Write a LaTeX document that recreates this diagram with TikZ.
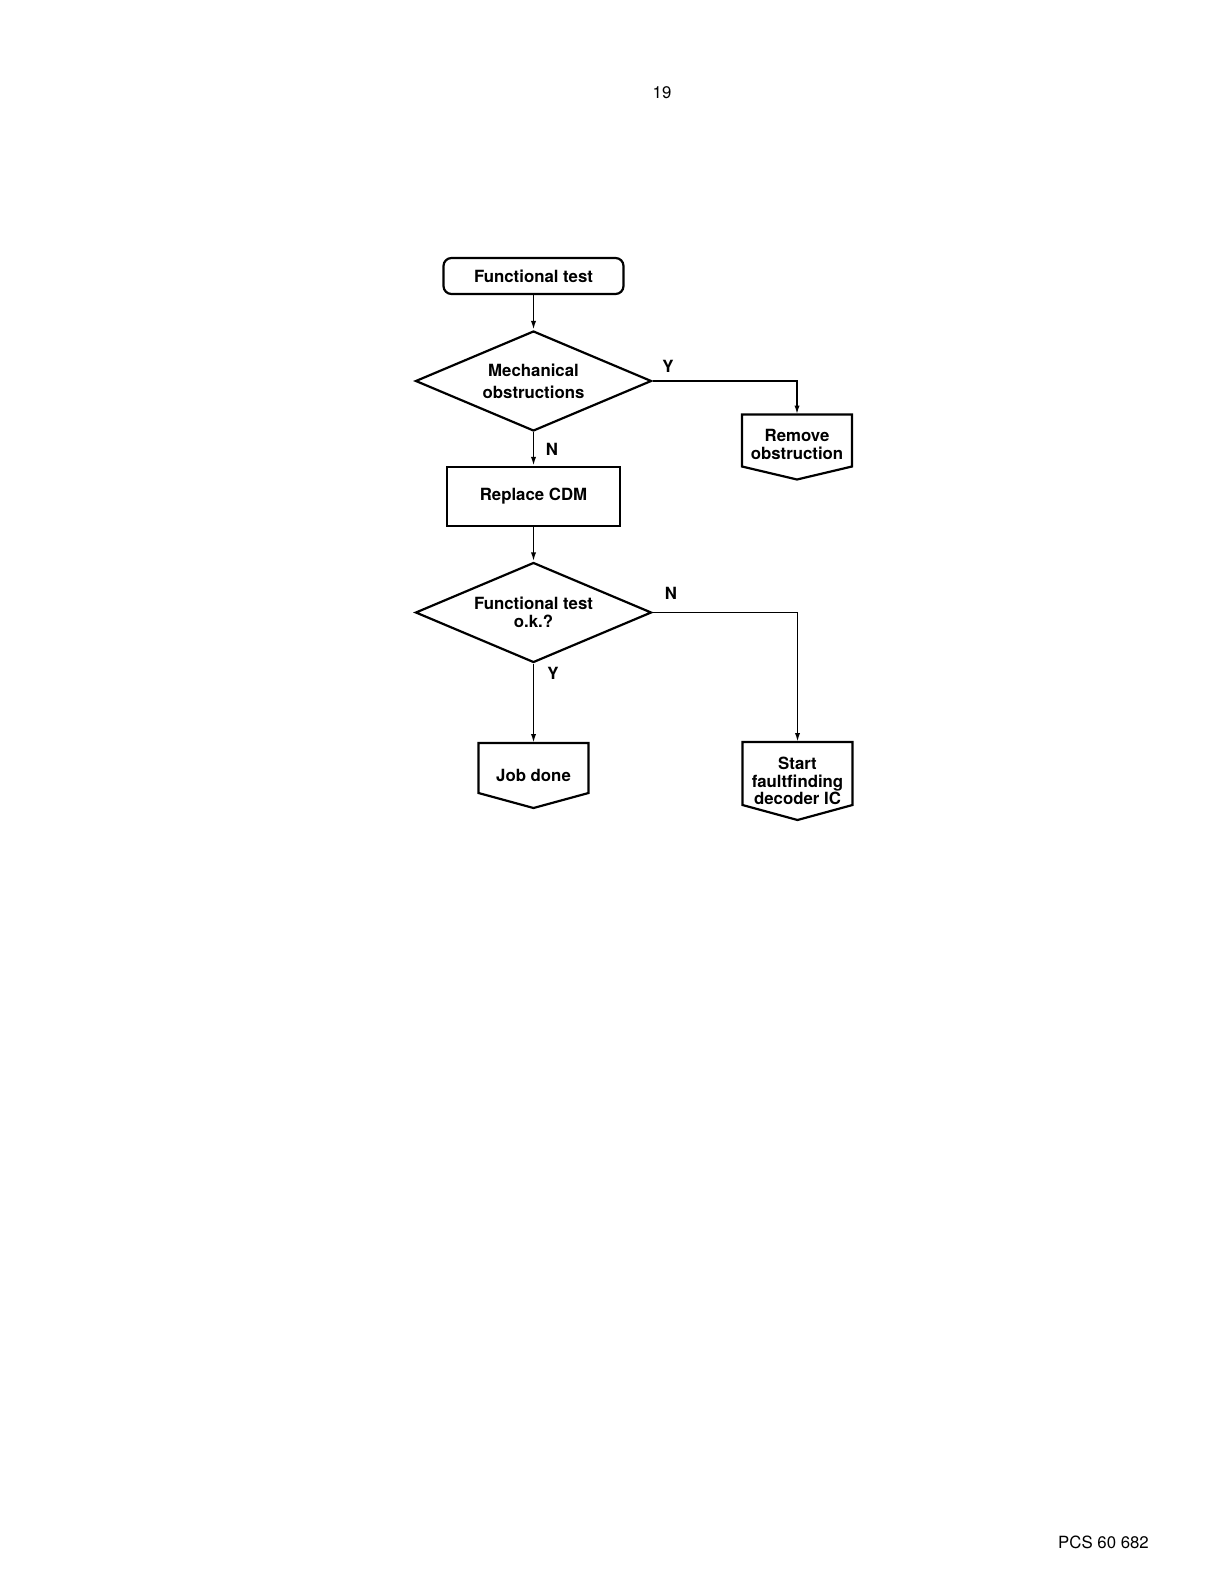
\documentclass[tikz,border=0pt]{standalone}
\usepackage{fontspec}
\setmainfont{TeX Gyre Heros}
\usetikzlibrary{shapes.geometric,arrows.meta}
\begin{document}
\begin{tikzpicture}[x=0.5pt,y=-0.5pt,
  every node/.style={font=\bfseries\fontsize{8.4}{9}\selectfont, align=center, inner sep=0pt},
  shapeline/.style={draw, line width=1.1pt},
  termbox/.style={shapeline, rounded corners=4pt, minimum width=90pt, minimum height=18pt},
  procbox/.style={shapeline, minimum width=86.5pt, minimum height=29.5pt},
  decision/.style={shapeline, diamond, shape aspect=2.36, minimum width=118pt, minimum height=50pt},
  offpage/.style={outer sep=0pt, minimum width=55pt, minimum height=#1},
  conn/.style={line width=0.85pt, -{Latex[length=4.5pt,width=2.6pt]}},
  lbl/.style={font=\bfseries\fontsize{8.4}{9}\selectfont},
  plain/.style={font=\fontsize{8.4}{10}\selectfont}
]
\fill[white] (0,0) rectangle (1224,1584);
\useasboundingbox (0,0) rectangle (1224,1584);

\node[plain] (pagenum) at (662,93) {19};
\node[plain] (docref) at (1103.5,1542) {PCS 60 682};

\node[termbox] (ft) at (533.5,276) {Functional test};
\node[decision, font=\bfseries\fontsize{8.4}{11}\selectfont] (d1) at (533.5,381) {Mechanical\\obstructions};
\node[procbox] (rep) at (533.5,496.5) {Replace CDM};
\node[decision] (d2) at (533.5,612.5) {Functional test\\o.k.?};
\node[offpage=32.5pt, text depth=3pt] (rem) at (797,447) {Remove\\obstruction};
\node[offpage=32.5pt] (job) at (533.5,775.5) {Job done};
\node[offpage=39pt, font=\bfseries\fontsize{8.4}{8.75}\selectfont] (sta) at (797.5,781) {Start\\faultfinding\\decoder IC};

\foreach \n/\d in {rem/6.5pt, job/7.5pt, sta/7.5pt}{
  \draw[shapeline] (\n.north west) -- (\n.north east) -- ([yshift=\d]\n.south east)
    -- (\n.south) -- ([yshift=\d]\n.south west) -- cycle;
}

\draw[conn] (ft.south) -- (d1.north);
\draw[conn] (d1.east) -| (rem.north);
\draw[conn] (d1.south) -- (rep.north);
\draw[conn] (rep.south) -- (d2.north);
\draw[conn] (d2.east) -| (sta.north);
\draw[conn] (d2.south) -- (job.north);

\node[lbl] (y1) at (668,366) {Y};
\node[lbl] (n1) at (552,449) {N};
\node[lbl] (n2) at (671,593) {N};
\node[lbl] (y2) at (553,673) {Y};
\end{tikzpicture}
\end{document}
